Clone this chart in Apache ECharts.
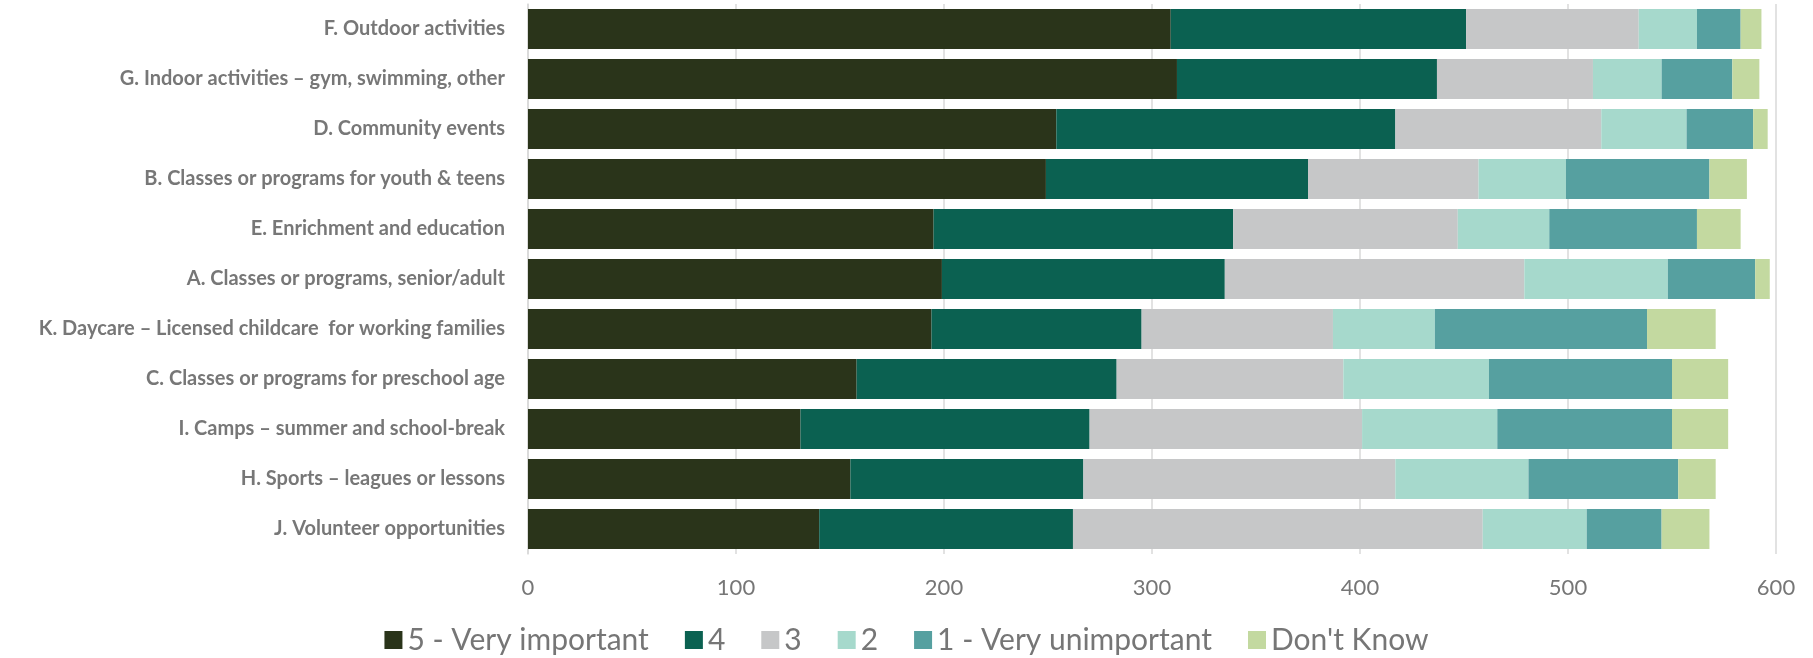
<!DOCTYPE html>
<html>
<head>
<meta charset="utf-8">
<script src="https://cdn.jsdelivr.net/npm/echarts@6/dist/echarts.min.js"></script>
<style>
  html, body { margin: 0; padding: 0; background: #fff; }
  #chart { width: 1813px; height: 658px; }
</style>
</head>
<body>
<div id="chart"></div>
<script>
const categories = [
  "F. Outdoor activities",
  "G. Indoor activities \u2013 gym, swimming, other",
  "D. Community events",
  "B. Classes or programs for youth & teens",
  "E. Enrichment and education",
  "A. Classes or programs, senior/adult",
  "K. Daycare \u2013 Licensed childcare  for working families",
  "C. Classes or programs for preschool age",
  "I. Camps \u2013 summer and school-break",
  "H. Sports \u2013 leagues or lessons",
  "J. Volunteer opportunities"
];
const seriesNames = ["5 - Very important", "4", "3", "2", "1 - Very unimportant", "Don't Know"];
const veryImportant   = [309, 312, 254, 249, 195, 199, 194, 158, 131, 155, 140];
const four            = [142, 125, 163, 126, 144, 136, 101, 125, 139, 112, 122];
const three           = [ 83,  75,  99,  82, 108, 144,  92, 109, 131, 150, 197];
const two             = [ 28,  33,  41,  42,  44,  69,  49,  70,  65,  64,  50];
const veryUnimportant = [ 21,  34,  32,  69,  71,  42, 102,  88,  84,  72,  36];
const dontKnow        = [ 10,  13,   7,  18,  21,   7,  33,  27,  27,  18,  23];
const xTicks = [0, 100, 200, 300, 400, 500, 600];

const colors = ["#2a341a", "#0b6151", "#c6c7c8", "#a6d9cc", "#56a0a0", "#c3d9a0"];
const values = [veryImportant, four, three, two, veryUnimportant, dontKnow];

const chart = echarts.init(document.getElementById('chart'), null, { renderer: 'canvas' });
chart.setOption({
  animation: false,
  color: colors,
  grid: { left: 528, right: 37, top: 4, bottom: 104, containLabel: false },
  legend: {
    left: 'center',
    top: 620,
    itemWidth: 18,
    itemHeight: 18,
    itemGap: 36,
    icon: 'rect',
    textStyle: { fontFamily: 'Lato, sans-serif', fontSize: 30, color: '#767676' },
    data: seriesNames
  },
  xAxis: {
    type: 'value',
    min: xTicks[0],
    max: xTicks[xTicks.length - 1],
    interval: 100,
    axisLine: { show: false },
    axisTick: { show: false },
    splitLine: { show: true, lineStyle: { color: '#d9d9d9', width: 1.5 } },
    axisLabel: { margin: 23, color: '#767676', fontFamily: 'Lato, sans-serif', fontSize: 22 }
  },
  yAxis: {
    type: 'category',
    inverse: true,
    data: categories,
    axisLine: { show: true, lineStyle: { color: '#d9d9d9', width: 1.5 } },
    axisTick: { show: false },
    axisLabel: { margin: 23, color: '#777777', fontWeight: 'bold', fontFamily: 'Lato, sans-serif', fontSize: 20 }
  },
  series: seriesNames.map((name, i) => ({
    name: name,
    type: 'bar',
    stack: 'total',
    barCategoryGap: '20%',
    data: values[i],
    itemStyle: { color: colors[i] }
  }))
});
</script>
</body>
</html>
